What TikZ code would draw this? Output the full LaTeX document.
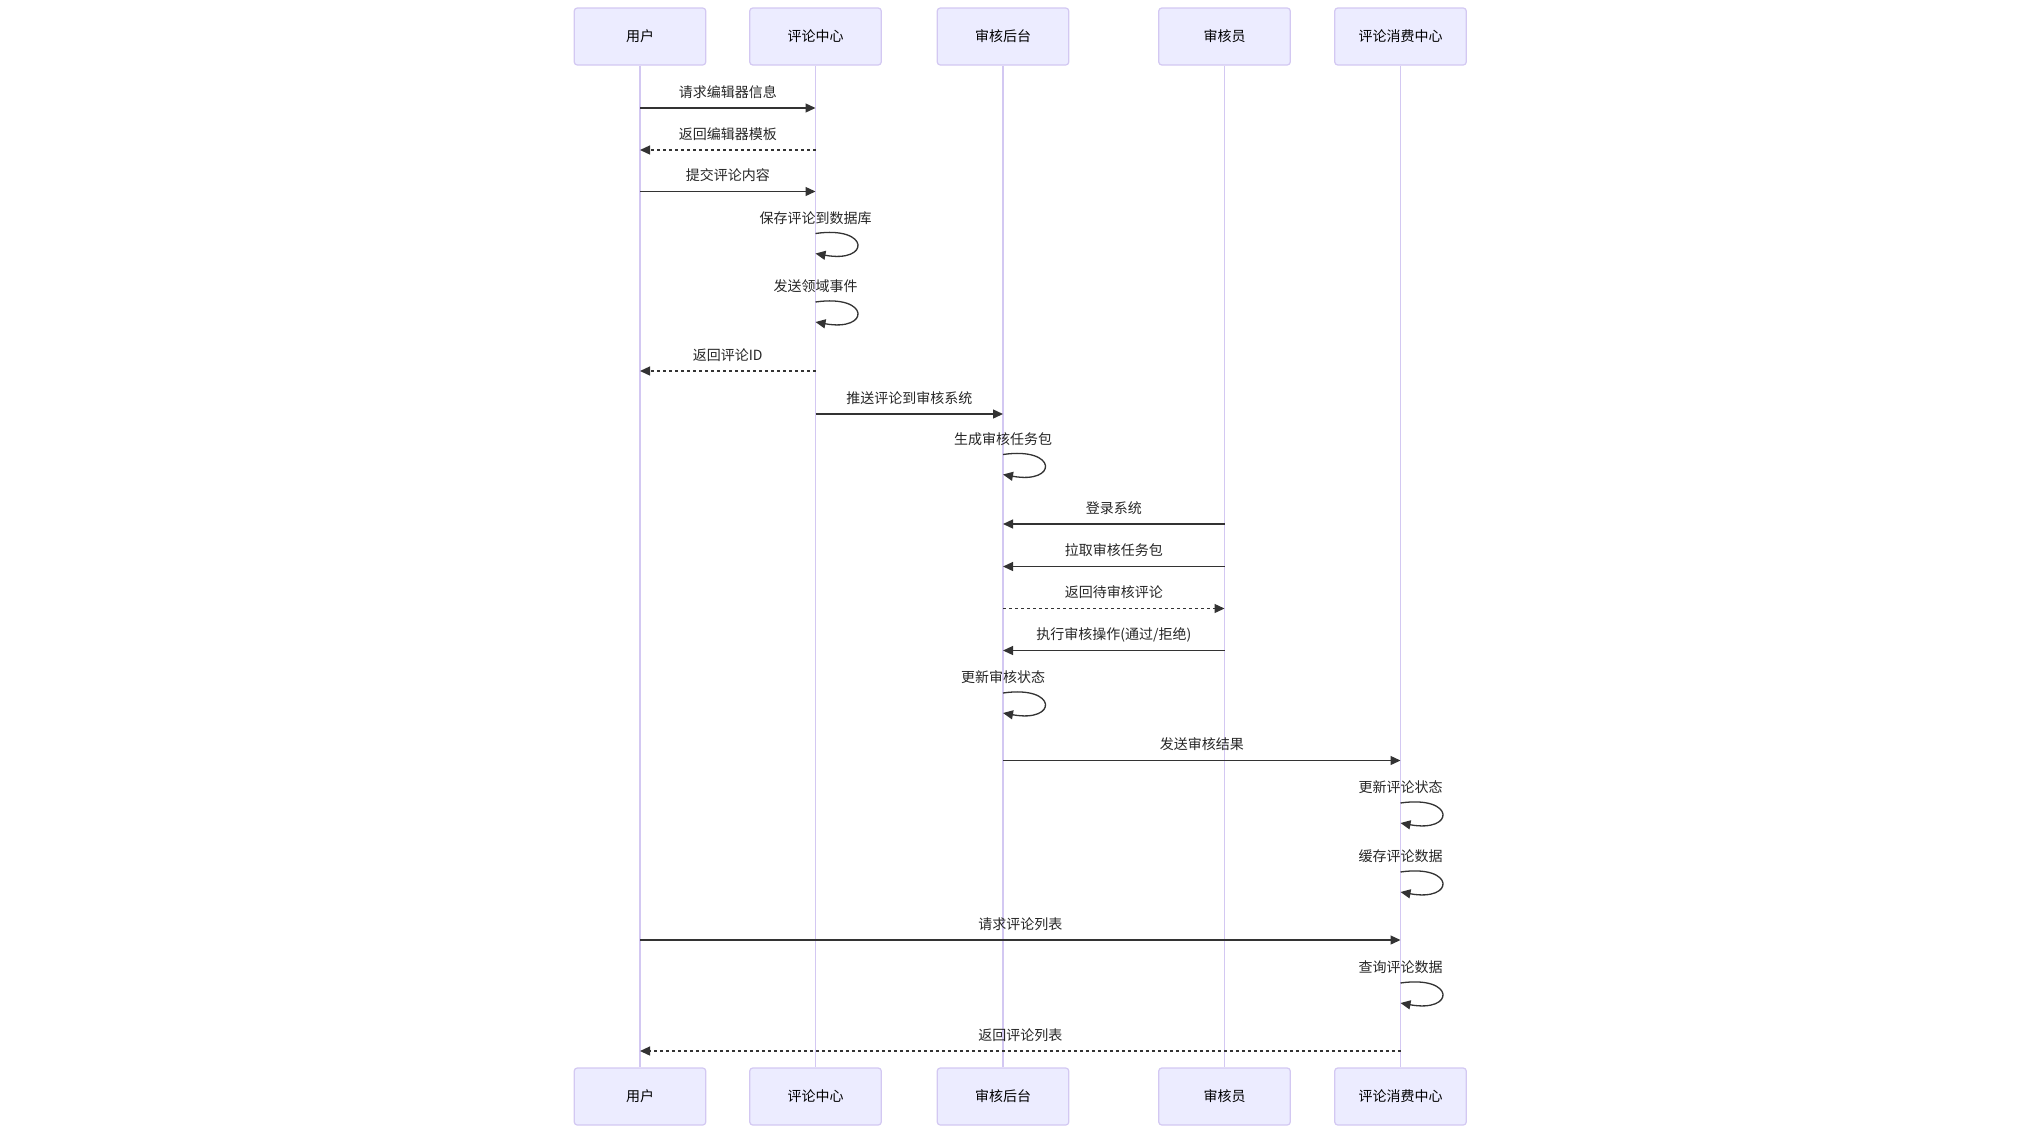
\documentclass[tikz,border=0pt]{standalone}
\usepackage{fontspec}
\setmainfont{Noto Sans CJK SC}
\usetikzlibrary{arrows.meta}
\definecolor{actfill}{HTML}{ECECFF}
\definecolor{actline}{HTML}{D3C8F2}
\definecolor{msgcol}{HTML}{333333}
\tikzset{
  actor/.style={draw=actline, line width=1.2pt, fill=actfill, rounded corners=3pt,
    minimum width=131.5pt, minimum height=57pt, inner sep=0pt,
    font=\fontsize{14}{17}\selectfont, text=black},
  life/.style={draw=actline, line width=1.5pt},
  msgsolid/.style={draw=msgcol, line width=1.3pt, -{Triangle[length=10pt,width=9pt]}},
  msgdash/.style={msgsolid, dash pattern=on 3pt off 3pt},
  lbl/.style={font=\fontsize{14}{17}\selectfont, text=black!85, inner sep=0pt, anchor=center}
}
\newcommand\seqmsg[5]{%
  \draw[#5] (#1 |- 0,#3) -- node[lbl, midway, yshift=16pt]{#4} (#2 |- 0,#3);}
\newcommand\seqself[3]{%
  \path (#1 |- 0,#2) coordinate (ls) ++(0,20) coordinate (le);
  \node[lbl] at ([shift={(0,-15.5)}]ls) {#3};
  \draw[msgsolid] (ls) .. controls ([shift={(55,-8)}]ls) and ([shift={(55,10)}]le) .. (le);}
\begin{document}
\begin{tikzpicture}[x=1pt,y=-1pt]
\useasboundingbox (0,0) rectangle (2042,1136);
% top actors
\node[actor] (u) at (640,36.5) {用户};
\node[actor] (c) at (815.5,36.5) {评论中心};
\node[actor] (a) at (1003,36.5) {审核后台};
\node[actor] (r) at (1224.5,36.5) {审核员};
\node[actor] (m) at (1400.5,36.5) {评论消费中心};
% bottom actors
\node[actor] (ub) at (640,1096.5) {用户};
\node[actor] (cb) at (815.5,1096.5) {评论中心};
\node[actor] (ab) at (1003,1096.5) {审核后台};
\node[actor] (rb) at (1224.5,1096.5) {审核员};
\node[actor] (mb) at (1400.5,1096.5) {评论消费中心};
% lifelines
\foreach \t/\b in {u/ub,c/cb,a/ab,r/rb,m/mb}{
  \draw[life] (\t.south) -- (\b.north);
}
% messages
\seqmsg{u}{c}{108}{请求编辑器信息}{msgsolid}
\seqmsg{c}{u}{150}{返回编辑器模板}{msgdash}
\seqmsg{u}{c}{191.5}{提交评论内容}{msgsolid}
\seqself{c}{233.5}{保存评论到数据库}
\seqself{c}{302}{发送领域事件}
\seqmsg{c}{u}{371}{返回评论ID}{msgdash}
\seqmsg{c}{a}{414}{推送评论到审核系统}{msgsolid}
\seqself{a}{454.5}{生成审核任务包}
\seqmsg{r}{a}{524}{登录系统}{msgsolid}
\seqmsg{r}{a}{566.5}{拉取审核任务包}{msgsolid}
\seqmsg{a}{r}{608.5}{返回待审核评论}{msgdash}
\seqmsg{r}{a}{650.5}{执行审核操作(通过/拒绝)}{msgsolid}
\seqself{a}{693}{更新审核状态}
\seqmsg{a}{m}{760.5}{发送审核结果}{msgsolid}
\seqself{m}{803}{更新评论状态}
\seqself{m}{872}{缓存评论数据}
\seqmsg{u}{m}{940}{请求评论列表}{msgsolid}
\seqself{m}{983}{查询评论数据}
\seqmsg{m}{u}{1051}{返回评论列表}{msgdash}
\end{tikzpicture}
\end{document}
